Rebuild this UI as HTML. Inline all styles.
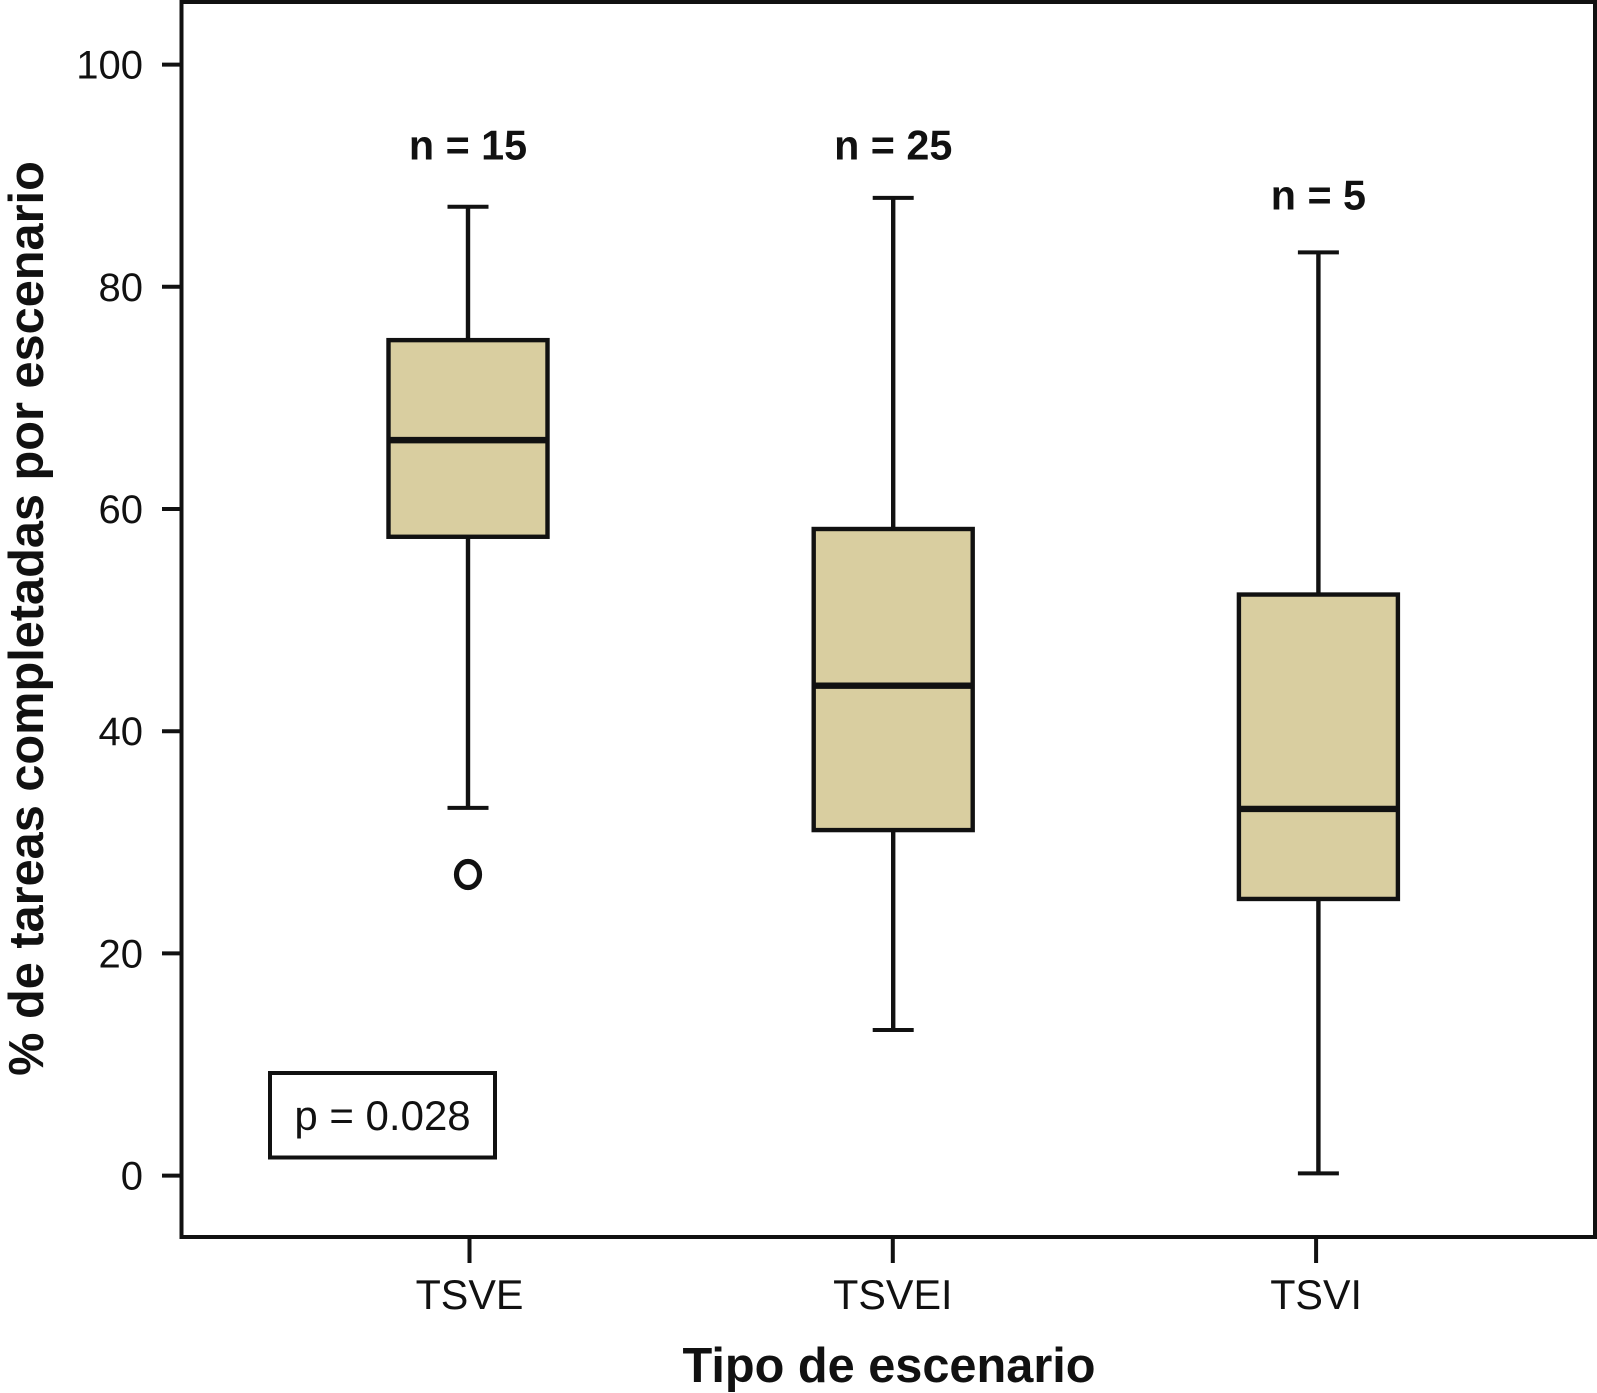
<!DOCTYPE html>
<html lang="es">
<head>
<meta charset="utf-8">
<title>% de tareas completadas por escenario</title>
<style>
html,body{margin:0;padding:0;background:#fff;width:1597px;height:1393px;overflow:hidden}
svg{display:block;font-family:"Liberation Sans",Arial,sans-serif}
</style>
</head>
<body>
<svg id="chart" xmlns="http://www.w3.org/2000/svg" width="1597" height="1393" viewBox="0 0 1597 1393">
<text transform="translate(43,618.5) rotate(-90)" text-anchor="middle" font-size="48.7" font-weight="700" fill="#111">% de tareas completadas por escenario</text>
<text x="889" y="1382" text-anchor="middle" font-size="48.7" font-weight="700" fill="#111">Tipo de escenario</text>
<rect x="181.5" y="2" width="1413.5" height="1235" fill="none" stroke="#111" stroke-width="4"/>
<g id="y-axis"></g>
<g id="x-axis"></g>
<g id="boxes"></g>
<g>
<rect x="270" y="1073" width="225" height="84.5" fill="#fff" stroke="#111" stroke-width="4"/>
<text x="382.5" y="1130" text-anchor="middle" font-size="42" fill="#111">p = 0.028</text>
</g>
</svg>
<script>
const categories = ['TSVE', 'TSVEI', 'TSVI'];
const sampleLabels = ['n = 15', 'n = 25', 'n = 5'];
const whiskerHigh = [87.2, 88, 83.1];
const q3 = [75.2, 58.2, 52.3];
const medians = [66.2, 44.1, 33];
const q1 = [57.5, 31.1, 24.9];
const whiskerLow = [33.1, 13.1, 0.2];
const outliers = [27.1, null, null];
const labelValues = [92.7, 92.7, 88.2];
const yTicks = [0, 20, 40, 60, 80, 100];

const NS = 'http://www.w3.org/2000/svg';
const INK = '#111';
const y = v => 1175.6 - 11.11 * v;
const xBox = i => 468 + 425.2 * i;
const xTick = i => 469.5 + 423.3 * i;
const boxW = 159, capW = 41;

function mk(parent, tag, props, text) {
  const el = document.createElementNS(NS, tag);
  for (const k in props) el.setAttribute(k, props[k]);
  if (text !== undefined) el.textContent = text;
  parent.appendChild(el);
  return el;
}

const yAxis = document.getElementById('y-axis');
yTicks.forEach(t => {
  const tick = mk(yAxis, 'line', {x1: 162, x2: 181, y1: y(t), y2: y(t), stroke: INK, 'stroke-width': 4});
  
  
  const label = mk(yAxis, 'text', {x: 143, y: y(t) + 14, 'text-anchor': 'end', 'font-size': 40, fill: INK}, t);
  
  
});

const xAxis = document.getElementById('x-axis');
categories.forEach((c, i) => {
  const tick = mk(xAxis, 'line', {x1: xTick(i), x2: xTick(i), y1: 1237, y2: 1263, stroke: INK, 'stroke-width': 4});
  
  
  const label = mk(xAxis, 'text', {x: xTick(i), y: 1309, 'text-anchor': 'middle', 'font-size': 41.3, fill: INK}, c);
  
  
});

const boxes = document.getElementById('boxes');
categories.forEach((c, i) => {
  const id = c.toLowerCase();
  const cx = xBox(i);
  const g = mk(boxes, 'g', {});
  
  

  const stem = mk(g, 'line', {x1: cx, x2: cx, y1: y(whiskerHigh[i]), y2: y(whiskerLow[i]), stroke: INK, 'stroke-width': 4.4});
  
  

  const capHi = mk(g, 'line', {x1: cx - capW / 2, x2: cx + capW / 2, y1: y(whiskerHigh[i]), y2: y(whiskerHigh[i]), stroke: INK, 'stroke-width': 4});
  
  

  const capLo = mk(g, 'line', {x1: cx - capW / 2, x2: cx + capW / 2, y1: y(whiskerLow[i]), y2: y(whiskerLow[i]), stroke: INK, 'stroke-width': 4});
  
  

  const box = mk(g, 'rect', {x: cx - boxW / 2, y: y(q3[i]), width: boxW, height: y(q1[i]) - y(q3[i]), fill: '#d9cea0', stroke: INK, 'stroke-width': 4.4});
  
  

  const median = mk(g, 'line', {x1: cx - boxW / 2, x2: cx + boxW / 2, y1: y(medians[i]), y2: y(medians[i]), stroke: INK, 'stroke-width': 6.4});
  
  

  if (outliers[i] !== null) {
    const dot = mk(g, 'ellipse', {cx: cx, cy: y(outliers[i]), rx: 11.5, ry: 13, fill: 'none', stroke: INK, 'stroke-width': 5.2});
    
    
  }

  const nLabel = mk(g, 'text', {x: cx, y: y(labelValues[i]) + 14, 'text-anchor': 'middle', 'font-size': 41.3, 'font-weight': 700, fill: INK}, sampleLabels[i]);
  
  
});
</script>
</body>
</html>
